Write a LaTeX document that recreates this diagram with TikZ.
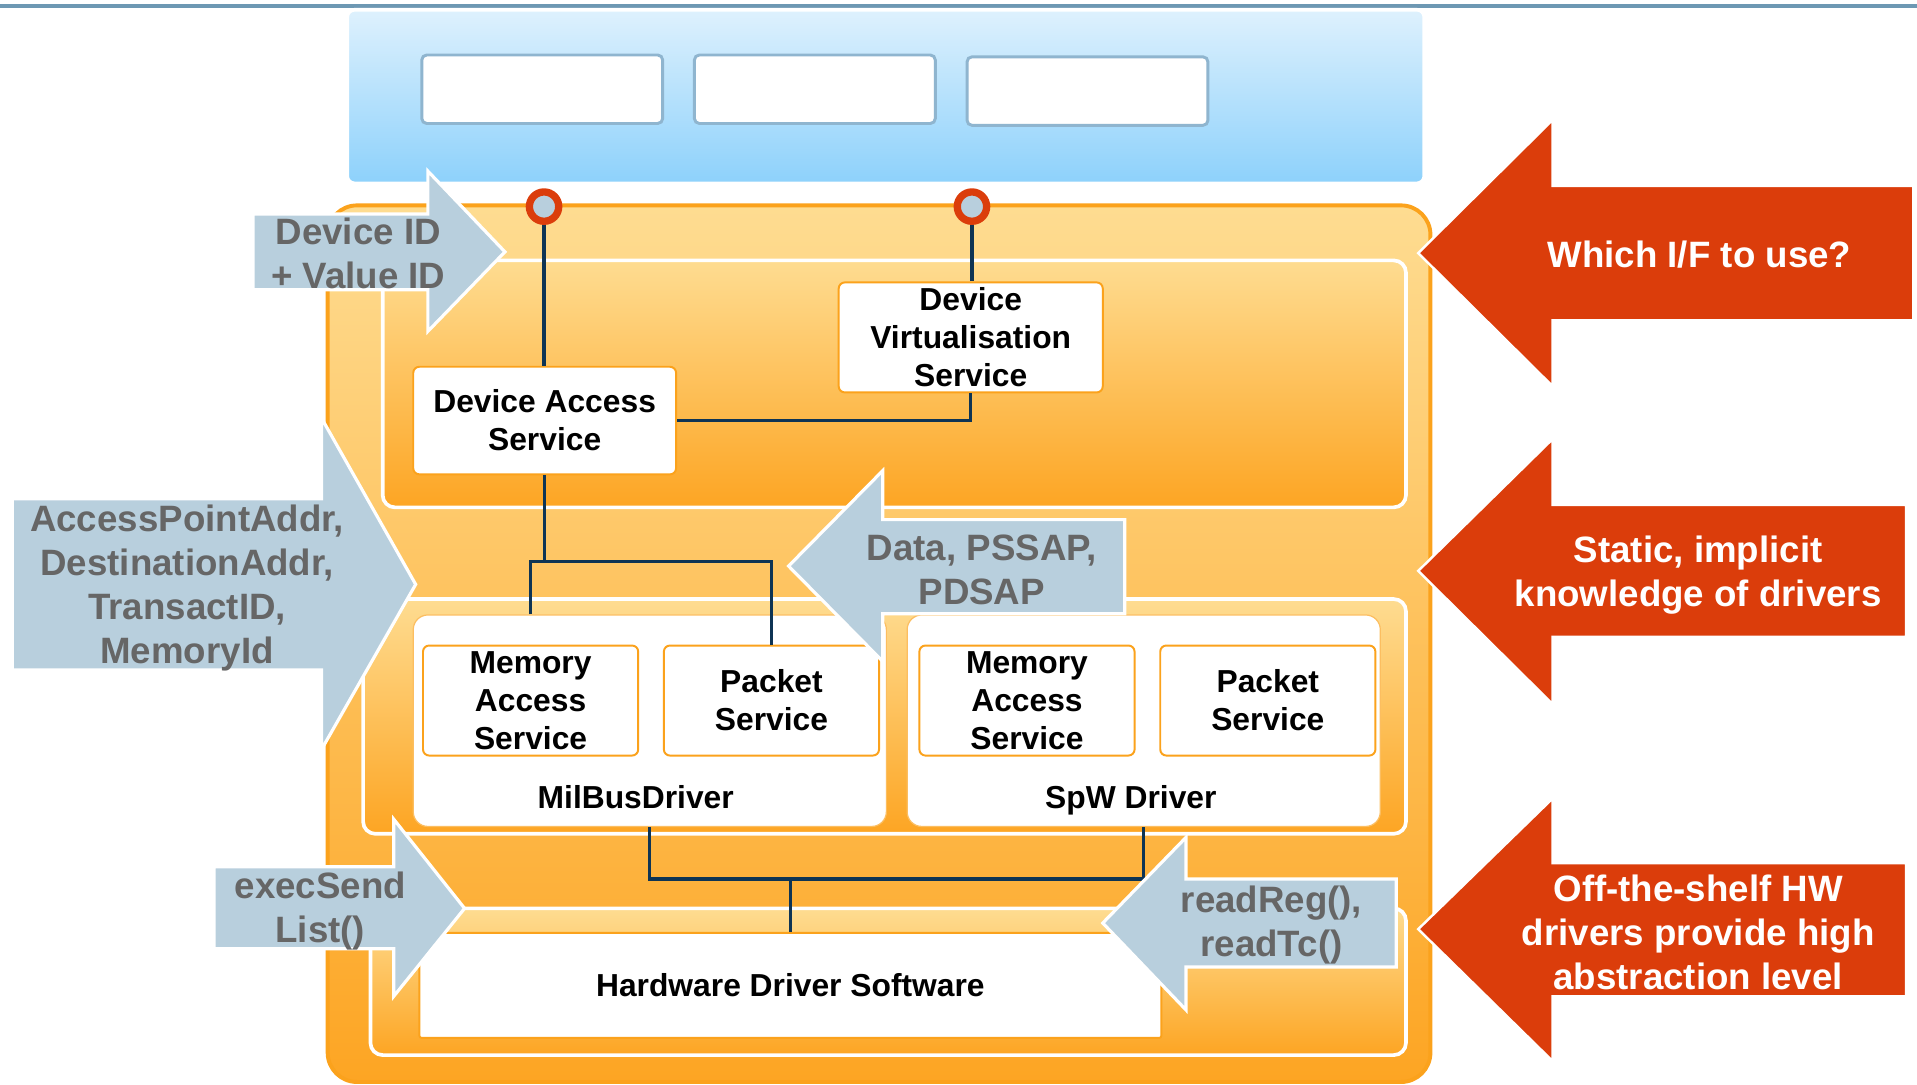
\documentclass[tikz,border=0pt]{standalone}
\usepackage{fontspec}
\setmainfont{Liberation Sans}
\definecolor{navy}{HTML}{0E3454}
\definecolor{obord}{HTML}{FBA21C}
\definecolor{olight}{HTML}{FEDC91}
\definecolor{odark}{HTML}{FDA523}
\definecolor{ored}{HTML}{DB3D0B}
\definecolor{gblue}{HTML}{B8CFDD}
\definecolor{gtext}{HTML}{666666}
\definecolor{bbord}{HTML}{8FB5CF}
\definecolor{btop}{HTML}{DEF1FD}
\definecolor{bbot}{HTML}{8DD1FB}
\definecolor{tline}{HTML}{6D98B3}
\newcommand\boxfont{\bfseries\fontsize{13pt}{15.5pt}\selectfont}
\newcommand\arrowfont{\bfseries\fontsize{15pt}{18pt}\selectfont}
\begin{document}
\begin{tikzpicture}[x=0.5pt,y=-0.5pt,
  conn/.style={draw=navy, line width=1.3pt},
  svc/.style={draw=obord, fill=white, line width=0.8pt, rounded corners=2.5pt, align=center, font=\boxfont, inner sep=0pt},
  drv/.style={draw=obord!70, fill=white, line width=0.5pt, rounded corners=6pt, inner sep=0pt},
  panel/.style={draw=white, line width=1.5pt, rounded corners=5pt, top color=olight, bottom color=odark},
  garrow/.style={fill=gblue, draw=white, line width=1.3pt},
  rarrow/.style={fill=ored, draw=white, line width=1pt},
  gtxt/.style={text=gtext, font=\arrowfont, align=center, inner sep=0pt},
  rtxt/.style={text=white, font=\arrowfont, align=center, inner sep=0pt},
  port/.style={circle, draw=ored, line width=3pt, fill=gblue, minimum size=12pt, inner sep=0pt},
  ubox/.style={draw=bbord, fill=white, line width=1.2pt, rounded corners=2pt, inner sep=0pt, minimum width=98.5pt, minimum height=28pt}
]
\useasboundingbox (0,0) rectangle (1568,887);
% top line
\draw[tline, line width=1.5pt] (0,5) -- (1568,5);
% blue application panel
\draw[draw=white, line width=1.5pt, rounded corners=3pt, top color=btop, bottom color=bbot] (284,8) rectangle (1165,150);
\node[ubox] (b1) at (443.5,73) {};
\node[ubox] (b2) at (666.5,73) {};
\node[ubox] (b3) at (889.5,74.5) {};
% outer orange box
\draw[draw=obord, line width=1.6pt, rounded corners=12pt, top color=olight, bottom color=odark] (268,168) rectangle (1170,885);
% layers
\draw[panel] (313,213) rectangle (1150,415);
\draw[panel] (297,490) rectangle (1150,682);
\draw[panel] (303,743) rectangle (1150,863);
% service boxes
\node[svc, minimum width=107.5pt, minimum height=44pt] (das) at (445.5,344) {Device Access\\Service};
\node[svc, minimum width=108pt, minimum height=45pt] (dvs) at (794,276) {Device\\Virtualisation\\Service};
\node[drv, minimum width=193.5pt, minimum height=86.5pt] (mil) at (531.5,589.5) {};
\node[drv, minimum width=193.5pt, minimum height=86.5pt] (spw) at (935.5,589.5) {};
\node[svc, minimum width=88pt, minimum height=45pt] (mas1) at (434,573) {Memory\\Access\\Service};
\node[svc, minimum width=88pt, minimum height=45pt] (ps1) at (631,573) {Packet\\Service};
\node[svc, minimum width=88pt, minimum height=45pt] (mas2) at (840,573) {Memory\\Access\\Service};
\node[svc, minimum width=88pt, minimum height=45pt] (ps2) at (1037,573) {Packet\\Service};
\node[font=\boxfont, inner sep=0pt, anchor=base] (milL) at (520,661) {MilBusDriver};
\node[font=\boxfont, inner sep=0pt, anchor=base] (spwL) at (925,661) {SpW Driver};
\node[svc, minimum width=303.5pt, minimum height=43pt, rounded corners=1pt] (hw) at (646.5,806) {Hardware Driver Software};
% ports
\node[port] (c1) at (445,169) {};
\node[port] (c2) at (795,169) {};
% connectors
\draw[conn] (c1.south) -- (c1.south |- das.north);
\draw[conn] (c2.south) -- (c2.south |- dvs.north);
\draw[conn] (dvs.south) |- (das.east);
\coordinate (j1) at (445.5,459);
\draw[conn] (das.south) -- (j1);
\draw[conn] (mas1.north |- mil.north) |- (j1) -| (ps1.north);
\coordinate (j2) at (646.5,719);
\draw[conn] (mil.south) |- (j2) -| (spw.south);
\draw[conn] (j2) -- (hw.north);
% grey arrows
\draw[garrow] (207,175) -- (350,175) -- (350,140) -- (413,206) -- (350,271) -- (350,237) -- (207,237) -- cycle;
\node[gtxt] (devid) at (293,207) {Device ID\\+ Value ID};
\draw[garrow] (920,425) -- (722,425) -- (722,385) -- (645,463) -- (722,541) -- (722,502) -- (920,502) -- cycle;
\node[gtxt] (data) at (803,466) {Data, PSSAP,\\PDSAP};
\draw[garrow] (10,408) -- (263,408) -- (263,342) -- (340,478) -- (263,613) -- (263,548) -- (10,548) -- cycle;
\node[gtxt] (apa) at (153,481) {AccessPointAddr,\\DestinationAddr,\\TransactID,\\MemoryId};
\draw[garrow] (175,709) -- (322,709) -- (322,670) -- (380,743) -- (322,815) -- (322,776) -- (175,776) -- cycle;
\node[gtxt] (exec) at (262,745) {execSend\\List()};
\draw[garrow] (1142,719) -- (970,719) -- (970,685) -- (902,755) -- (970,826) -- (970,791) -- (1142,791) -- cycle;
\node[gtxt] (rr) at (1040,757) {readReg(),\\readTc()};
% red arrows
\draw[rarrow] (1565,152) -- (1270,152) -- (1270,98) -- (1160,207) -- (1270,316) -- (1270,262) -- (1565,262) -- cycle;
\node[rtxt] (q1) at (1390,208) {Which I/F to use?};
\draw[rarrow] (1559,413) -- (1270,413) -- (1270,359) -- (1160,467) -- (1270,576) -- (1270,521) -- (1559,521) -- cycle;
\node[rtxt] (q2) at (1389,470) {Static, implicit\\knowledge of drivers};
\draw[rarrow] (1559,706) -- (1270,706) -- (1270,653) -- (1160,760) -- (1270,868) -- (1270,815) -- (1559,815) -- cycle;
\node[rtxt] (q3) at (1389,763) {Off-the-shelf HW\\drivers provide high\\abstraction level};
\end{tikzpicture}
\end{document}
